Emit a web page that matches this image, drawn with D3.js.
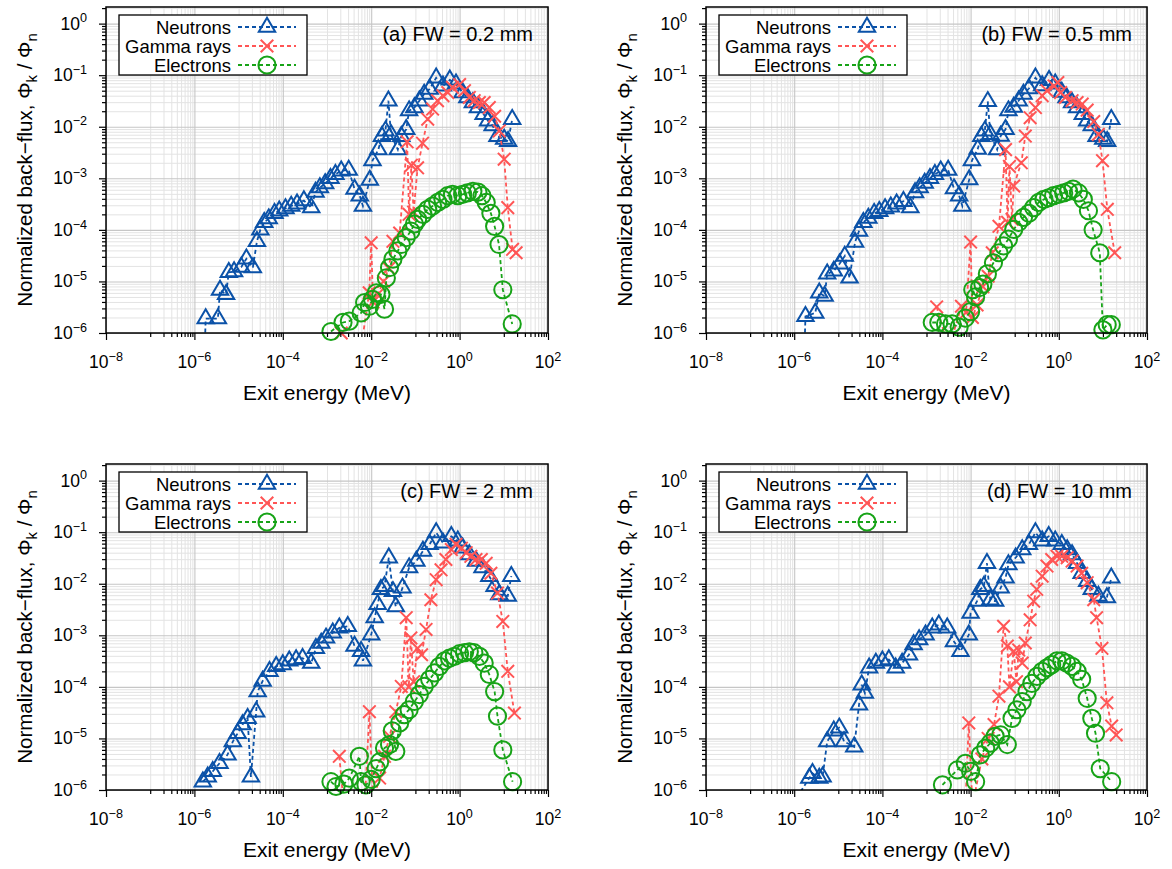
<!DOCTYPE html>
<html><head><meta charset="utf-8">
<script src="https://cdn.jsdelivr.net/npm/d3@7"></script>
<style>
body{margin:0;background:#fff}
text{font-family:"Liberation Sans",Arial,Helvetica,sans-serif;fill:#000}
</style>
</head><body>
<svg id="chart" width="1172" height="869"></svg>
<script>
// ---------- data (exit energy in MeV, normalized back-flux) ----------
const xTickExps = [-8, -6, -4, -2, 0, 2];
const yTickExps = [-6, -5, -4, -3, -2, -1, 0];
const seriesNames = ["Neutrons", "Gamma rays", "Electrons"];
const panelLabels = ["(a) FW = 0.2 mm", "(b) FW = 0.5 mm", "(c) FW = 2 mm", "(d) FW = 10 mm"];
const xTitle = "Exit energy (MeV)";

const neutronsA = [[1.7e-6,4.0e-7],[1.8e-6,1.9e-6],[3.4e-6,1.9e-6],[3.8e-6,6.8e-6],[5.2e-6,5.6e-6],[6.0e-6,1.5e-5],[7.9e-6,1.55e-5],[1.15e-5,1.9e-5],[1.5e-5,2.75e-5],[2.1e-5,1.85e-5],[2.6e-5,6.0e-5],[3.1e-5,1.0e-4],[3.8e-5,1.4e-4],[4.8e-5,1.65e-4],[6.5e-5,2.1e-4],[8.3e-5,2.35e-4],[1.15e-4,2.6e-4],[1.55e-4,2.9e-4],[2.1e-4,3.2e-4],[3.0e-4,3.7e-4],[4.4e-4,2.7e-4],[5.5e-4,5.4e-4],[6.9e-4,6.6e-4],[9.1e-4,7.9e-4],[1.2e-3,1.0e-3],[1.55e-3,1.2e-3],[2.1e-3,1.4e-3],[3.1e-3,1.45e-3],[4.2e-3,6.2e-4],[5.5e-3,4.6e-4],[6.5e-3,2.9e-4],[9.3e-3,9.3e-4],[1.07e-2,2.2e-3],[1.45e-2,3.6e-3],[1.75e-2,6.5e-3],[2.1e-2,8.3e-3],[2.45e-2,3.2e-2],[2.8e-2,7.1e-3],[4.0e-2,3.6e-3],[4.8e-2,6.5e-3],[6.2e-2,8.9e-3],[7.2e-2,2.05e-2],[9.5e-2,2.35e-2],[0.123,3.2e-2],[0.158,4.3e-2],[0.21,5.4e-2],[0.295,8.9e-2],[0.42,6.2e-2],[0.60,8.1e-2],[0.83,6.8e-2],[1.17,4.6e-2],[1.5,3.7e-2],[2.0,2.95e-2],[2.6,2.35e-2],[3.5,1.75e-2],[4.4,1.3e-2],[5.6,1.05e-2],[7.2,6.5e-3],[10.2,5.8e-3],[12.5,5.2e-3],[15.5,1.4e-2]];
const gammaA = [[2.1e-3,1.0e-6],[3.7e-3,5.0e-7],[6.5e-3,9.1e-7],[9.0e-3,6.0e-6],[1.0e-2,5.6e-5],[1.1e-2,4.0e-6],[1.4e-2,5.6e-6],[1.9e-2,1.0e-5],[2.5e-2,1.8e-5],[3.1e-2,6.0e-5],[4.4e-2,8.7e-5],[6.5e-2,5.1e-3],[7.2e-2,2.0e-4],[8.1e-2,1.8e-3],[9.1e-2,2.2e-4],[0.112,1.6e-3],[0.145,4.8e-3],[0.19,1.4e-2],[0.245,2.2e-2],[0.316,3.2e-2],[0.42,4.0e-2],[0.54,4.6e-2],[0.69,5.8e-2],[1.0,6.6e-2],[1.29,5.0e-2],[1.66,3.7e-2],[2.14,3.2e-2],[2.8,2.95e-2],[3.6,2.95e-2],[4.7,2.35e-2],[6.2,1.6e-2],[7.9,8.3e-3],[10.2,2.35e-3],[12.3,2.7e-4],[15.8,4.2e-5],[19,3.6e-5]];
const electronsA = [[1.23e-3,1.07e-6],[2.3e-3,1.6e-6],[3.2e-3,1.7e-6],[5.9e-3,2.45e-6],[7.1e-3,3.9e-6],[9.1e-3,3.3e-6],[1.07e-2,4.5e-6],[1.3e-2,6.0e-6],[1.66e-2,5.6e-6],[2.0e-2,2.9e-6],[2.2e-2,1.17e-5],[2.6e-2,1.86e-5],[3.1e-2,2.7e-5],[4.0e-2,3.9e-5],[4.8e-2,5.2e-5],[6.2e-2,7.1e-5],[7.9e-2,9.5e-5],[9.5e-2,1.3e-4],[0.112,1.6e-4],[0.148,2.0e-4],[0.19,2.5e-4],[0.245,2.9e-4],[0.32,3.4e-4],[0.42,3.9e-4],[0.54,4.6e-4],[0.69,4.9e-4],[0.91,4.6e-4],[1.17,4.9e-4],[1.5,5.2e-4],[2.0,5.6e-4],[2.6,5.4e-4],[3.2,4.6e-4],[4.0,3.4e-4],[5.1,2.1e-4],[6.2,1.17e-4],[7.8,5.2e-5],[9.5,6.9e-6],[15.5,1.5e-6]];

const neutronsB = [[1.7e-6,4.0e-7],[1.8e-6,2.1e-6],[3.0e-6,2.45e-6],[3.7e-6,6.0e-6],[4.9e-6,5.2e-6],[5.6e-6,1.4e-5],[7.9e-6,1.6e-5],[1.07e-5,2.2e-5],[1.4e-5,3.1e-5],[1.8e-5,1.17e-5],[2.4e-5,5.8e-5],[2.95e-5,9.5e-5],[3.7e-5,1.4e-4],[4.8e-5,1.7e-4],[6.5e-5,2.1e-4],[8.5e-5,2.3e-4],[1.15e-4,2.6e-4],[1.55e-4,2.8e-4],[2.1e-4,3.2e-4],[3.0e-4,3.6e-4],[4.3e-4,2.7e-4],[5.5e-4,5.3e-4],[7.0e-4,6.6e-4],[9.1e-4,8.1e-4],[1.2e-3,1.0e-3],[1.55e-3,1.2e-3],[2.1e-3,1.4e-3],[3.1e-3,1.45e-3],[4.2e-3,6.3e-4],[5.5e-3,4.6e-4],[6.5e-3,2.9e-4],[9.3e-3,9.5e-4],[1.07e-2,2.2e-3],[1.45e-2,3.7e-3],[1.75e-2,6.5e-3],[2.1e-2,8.3e-3],[2.45e-2,3.1e-2],[2.8e-2,7.1e-3],[4.0e-2,3.6e-3],[4.8e-2,6.6e-3],[6.2e-2,8.9e-3],[7.2e-2,2.05e-2],[9.5e-2,2.4e-2],[0.123,3.2e-2],[0.158,4.3e-2],[0.21,5.5e-2],[0.295,8.9e-2],[0.42,6.3e-2],[0.60,8.0e-2],[0.83,6.8e-2],[1.17,4.7e-2],[1.5,3.7e-2],[2.0,2.95e-2],[2.6,2.35e-2],[3.5,1.75e-2],[4.4,1.3e-2],[5.6,1.05e-2],[7.2,6.5e-3],[10.2,5.8e-3],[12.5,5.2e-3],[15.5,1.4e-2]];
const gammaB = [[1.7e-3,3.2e-6],[3.2e-3,5.0e-7],[6.2e-3,3.3e-6],[7.9e-3,2.5e-6],[1.0e-2,5.8e-5],[1.1e-2,2.0e-6],[1.4e-2,3.5e-6],[1.9e-2,7.9e-6],[2.5e-2,1.26e-5],[3.1e-2,3.6e-5],[4.4e-2,1.17e-4],[6.2e-2,3.6e-3],[6.9e-2,1.4e-4],[7.6e-2,1.7e-3],[8.7e-2,1.6e-4],[9.5e-2,7.1e-4],[0.141,2.0e-3],[0.174,6.6e-3],[0.224,1.5e-2],[0.295,2.35e-2],[0.42,4.0e-2],[0.54,5.0e-2],[0.78,6.2e-2],[0.95,7.2e-2],[1.1,4.6e-2],[1.41,3.7e-2],[2.0,3.2e-2],[2.6,2.95e-2],[3.4,2.75e-2],[4.4,2.1e-2],[6.2,1.26e-2],[7.9,7.1e-3],[9.8,2.2e-3],[12.6,2.5e-4],[18.5,3.6e-5]];
const electronsB = [[1.35e-3,1.6e-6],[1.9e-3,1.6e-6],[2.7e-3,1.5e-6],[3.8e-3,1.5e-6],[5.5e-3,1.3e-6],[7.6e-3,1.95e-6],[1.0e-2,2.6e-6],[1.12e-2,6.9e-6],[1.3e-2,5.0e-6],[1.6e-2,7.6e-6],[1.9e-2,8.9e-6],[2.4e-2,1.4e-5],[3.3e-2,2.3e-5],[4.4e-2,3.6e-5],[5.6e-2,4.9e-5],[7.2e-2,6.6e-5],[9.5e-2,1.02e-4],[0.123,1.4e-4],[0.158,1.74e-4],[0.21,2.1e-4],[0.27,2.7e-4],[0.35,3.4e-4],[0.46,3.9e-4],[0.59,4.2e-4],[0.76,4.6e-4],[1.0,4.9e-4],[1.29,5.2e-4],[1.66,5.6e-4],[2.1,6.2e-4],[2.8,5.2e-4],[3.6,3.9e-4],[4.7,2.35e-4],[6.0,1.0e-4],[8.5,3.6e-5],[10,1.15e-6],[12.5,1.45e-6],[15.5,1.45e-6]];

const neutronsC = [[1.55e-6,1.45e-6],[2.0e-6,1.8e-6],[2.6e-6,2.3e-6],[3.7e-6,3.3e-6],[5.6e-6,4.8e-6],[7.4e-6,8.7e-6],[9.5e-6,1.26e-5],[1.23e-5,1.86e-5],[1.6e-5,2.45e-5],[1.9e-5,1.8e-6],[2.5e-5,3.3e-5],[2.7e-5,8.1e-5],[3.5e-5,1.3e-4],[5.0e-5,2.0e-4],[7.1e-5,2.5e-4],[1.0e-4,2.7e-4],[1.4e-4,3.2e-4],[2.0e-4,3.4e-4],[2.8e-4,3.6e-4],[4.4e-4,2.9e-4],[5.6e-4,5.6e-4],[7.4e-4,7.1e-4],[9.5e-4,8.9e-4],[1.35e-3,1.12e-3],[1.9e-3,1.4e-3],[2.95e-3,1.5e-3],[4.2e-3,6.2e-4],[5.9e-3,4.9e-4],[6.5e-3,3.2e-4],[1.0e-2,1.02e-3],[1.2e-2,2.2e-3],[1.4e-2,4.0e-3],[1.66e-2,7.8e-3],[2.0e-2,8.9e-3],[2.5e-2,3.2e-2],[3.1e-2,7.1e-3],[3.6e-2,3.6e-3],[5.1e-2,8.3e-3],[7.2e-2,2.05e-2],[0.105,2.75e-2],[0.148,4.3e-2],[0.21,5.8e-2],[0.295,9.8e-2],[0.42,6.2e-2],[0.65,8.3e-2],[0.91,6.8e-2],[1.17,5.0e-2],[1.66,3.7e-2],[2.35,2.75e-2],[3.3,2.05e-2],[4.7,1.4e-2],[6.2,8.9e-3],[7.9,6.2e-3],[12.3,5.8e-3],[14.8,1.4e-2]];
const gammaC = [[1.9e-3,4.5e-6],[2.4e-3,5.0e-7],[7.1e-3,5.0e-7],[9.1e-3,3.3e-5],[1.1e-2,6.3e-7],[1.55e-2,1.7e-6],[2.0e-2,4.5e-6],[2.6e-2,1.1e-5],[3.6e-2,3.3e-5],[4.8e-2,1.02e-4],[6.2e-2,2.2e-3],[7.1e-2,1.0e-4],[7.9e-2,8.9e-4],[9.1e-2,1.26e-4],[0.112,5.6e-4],[0.138,4.2e-4],[0.174,1.3e-3],[0.224,4.9e-3],[0.295,1.2e-2],[0.38,1.86e-2],[0.49,2.95e-2],[0.65,4.6e-2],[0.83,5.8e-2],[1.1,4.9e-2],[1.41,4.0e-2],[1.8,3.4e-2],[2.35,2.95e-2],[3.1,2.95e-2],[4.0,2.5e-2],[5.1,1.6e-2],[7.2,6.6e-3],[9.5,1.86e-3],[12.3,2.0e-4],[17.4,3.1e-5]];
const electronsC = [[1.23e-3,1.45e-6],[1.6e-3,1.17e-6],[2.4e-3,1.3e-6],[3.2e-3,1.7e-6],[5.4e-3,4.5e-6],[5.9e-3,1.45e-6],[7.6e-3,1.26e-6],[1.0e-2,1.6e-6],[1.3e-2,2.6e-6],[1.55e-2,3.5e-6],[2.0e-2,6.5e-6],[2.6e-2,7.6e-6],[3.0e-2,1.4e-5],[3.6e-2,5.6e-6],[4.4e-2,2.0e-5],[5.6e-2,2.9e-5],[7.2e-2,3.6e-5],[9.5e-2,5.2e-5],[0.123,7.1e-5],[0.158,1.02e-4],[0.21,1.4e-4],[0.27,1.86e-4],[0.35,2.5e-4],[0.46,3.2e-4],[0.59,3.6e-4],[0.76,3.9e-4],[1.0,4.4e-4],[1.29,4.6e-4],[1.66,4.8e-4],[2.1,4.6e-4],[2.8,3.9e-4],[3.6,2.9e-4],[4.7,1.74e-4],[6.2,8.1e-5],[7.2,2.7e-5],[9.5,6.0e-6],[15.8,1.45e-6]];

const neutronsD = [[1.4e-6,9.3e-7],[2.2e-6,1.7e-6],[2.6e-6,2.1e-6],[3.7e-6,1.7e-6],[4.4e-6,1.8e-6],[5.6e-6,8.7e-6],[7.9e-6,1.4e-5],[1.05e-5,1.6e-5],[1.35e-5,8.7e-6],[2.3e-5,6.9e-6],[2.95e-5,4.5e-5],[3.4e-5,1.1e-4],[4.0e-5,7.6e-5],[5.0e-5,2.35e-4],[7.1e-5,2.9e-4],[1.0e-4,3.2e-4],[1.4e-4,3.4e-4],[2.0e-4,2.35e-4],[2.8e-4,2.9e-4],[4.0e-4,4.2e-4],[5.1e-4,6.6e-4],[6.8e-4,8.3e-4],[9.5e-4,1.02e-3],[1.35e-3,1.4e-3],[1.9e-3,1.6e-3],[2.95e-3,1.4e-3],[4.2e-3,7.6e-4],[5.9e-3,4.9e-4],[9.1e-3,1.02e-3],[1.0e-2,2.7e-3],[1.4e-2,4.6e-3],[1.66e-2,7.8e-3],[2.0e-2,8.9e-3],[2.35e-2,2.5e-2],[2.8e-2,4.9e-3],[3.6e-2,4.6e-3],[4.8e-2,8.3e-3],[6.2e-2,1.3e-2],[7.2e-2,2.35e-2],[0.105,3.2e-2],[0.148,4.6e-2],[0.21,5.8e-2],[0.295,9.8e-2],[0.42,6.8e-2],[0.59,8.3e-2],[0.83,6.8e-2],[1.17,5.8e-2],[1.55,4.6e-2],[2.0,3.7e-2],[2.6,2.5e-2],[3.3,1.6e-2],[4.4,1.12e-2],[5.6,7.8e-3],[7.9,5.8e-3],[12.3,5.4e-3],[15.5,1.3e-2]];
const gammaD = [[1.9e-3,9.3e-7],[7.6e-3,5.0e-7],[9.1e-3,2.0e-5],[1.1e-2,5.0e-7],[1.8e-2,4.0e-6],[2.5e-2,1.0e-5],[3.4e-2,1.86e-5],[4.4e-2,6.6e-5],[5.6e-2,1.5e-3],[6.8e-2,6.2e-4],[7.6e-2,1.0e-4],[9.5e-2,4.9e-4],[0.11,1.26e-4],[0.123,5.2e-4],[0.148,2.9e-4],[0.174,7.1e-4],[0.224,2.0e-3],[0.27,4.6e-3],[0.316,7.8e-3],[0.42,1.4e-2],[0.54,2.2e-2],[0.69,2.95e-2],[0.91,3.4e-2],[1.17,3.4e-2],[1.55,3.2e-2],[2.0,2.75e-2],[2.6,2.2e-2],[3.3,1.6e-2],[4.4,1.05e-2],[6.2,4.9e-3],[7.2,2.2e-3],[9.5,5.6e-4],[12.3,4.9e-5],[15.8,1.74e-5],[20,1.17e-5]];
const electronsD = [[2.3e-3,1.26e-6],[5.0e-3,2.45e-6],[7.6e-3,3.3e-6],[1.0e-2,2.3e-6],[1.3e-2,1.45e-6],[1.66e-2,4.8e-6],[2.2e-2,6.5e-6],[2.8e-2,8.1e-6],[3.6e-2,1.1e-5],[4.8e-2,1.17e-5],[6.8e-2,7.6e-6],[8.7e-2,2.45e-5],[0.112,3.6e-5],[0.148,5.2e-5],[0.19,8.1e-5],[0.245,1.17e-4],[0.32,1.6e-4],[0.42,2.0e-4],[0.54,2.35e-4],[0.69,2.7e-4],[0.91,3.2e-4],[1.17,3.2e-4],[1.5,2.9e-4],[2.0,2.5e-4],[2.6,2.0e-4],[3.3,1.4e-4],[4.4,6.0e-5],[5.6,2.45e-5],[6.8,1.26e-5],[8.7,2.6e-6],[15.8,1.45e-6]];

// ---------- layout & style ----------
const colors = ["#0b52a8", "#ff5555", "#17a317"];
const panels = [
  {x0:106, x1:548, y0:7,   y1:333, label:panelLabels[0], data:[neutronsA, gammaA, electronsA]},
  {x0:706, x1:1147, y0:7,  y1:333, label:panelLabels[1], data:[neutronsB, gammaB, electronsB]},
  {x0:106, x1:548, y0:464, y1:790, label:panelLabels[2], data:[neutronsC, gammaC, electronsC]},
  {x0:706, x1:1147, y0:464, y1:790, label:panelLabels[3], data:[neutronsD, gammaD, electronsD]}
];
const Y_MAX = 2.1, Y_MIN = 1e-6, X_MIN = 1e-8, X_MAX = 1e2;

const svg = d3.select("#chart");
svg.append("rect").attr("width",1172).attr("height",869).attr("fill","#fff");

function addMarker(sel, kind, color) {
  if (kind === 0) sel.append("path").attr("d","M0,-9.3L8.2,4.7L-8.2,4.7Z");
  else if (kind === 1) sel.append("path").attr("d","M-6.3,-6.3L6.3,6.3M-6.3,6.3L6.3,-6.3");
  else sel.append("circle").attr("r", 8.6);
  sel.selectAll("path,circle").attr("fill","none").attr("stroke",color).attr("stroke-width",2);
}

function powLabel(sel, e, fs) {
  sel.append("tspan").text("10");
  sel.append("tspan").attr("font-size", fs*0.72).attr("dy", -fs*0.42).text(e < 0 ? "\u2212" + (-e) : String(e));
}

panels.forEach((p, pi) => {
  const g = svg.append("g");
  const x = d3.scaleLog().domain([X_MIN, X_MAX]).range([p.x0, p.x1]);
  const y = d3.scaleLog().domain([Y_MIN, Y_MAX]).range([p.y1, p.y0]);

  const xMajor = xTickExps.map(e => Math.pow(10, e));
  const xMinor = [];
  for (let e = -7; e <= 1; e += 2) for (let k = 1; k <= 9; k++) xMinor.push(k * Math.pow(10, e));
  const yMajor = yTickExps.map(e => Math.pow(10, e));
  const yMinor = [];
  for (let e = -6; e <= 0; e++) for (let k = 2; k <= 9; k++) { const v = k * Math.pow(10, e); if (v <= Y_MAX) yMinor.push(v); }

  // grid
  const grid = g.append("g");
  const gridAxis = (axisGen, vals, cls, tr) => {
    const a = grid.append("g").attr("transform", tr).call(axisGen.tickValues(vals).tickFormat(""));
    a.select(".domain").remove();
    a.selectAll("line").attr("stroke", cls === "major" ? "#c6c6c6" : "#e3e3e3").attr("stroke-width", cls === "major" ? 1.1 : 1);
  };
  gridAxis(d3.axisBottom(x).tickSize(-(p.y1 - p.y0)).tickSizeOuter(0), xMinor, "minor", `translate(0,${p.y1})`);
  gridAxis(d3.axisLeft(y).tickSize(-(p.x1 - p.x0)).tickSizeOuter(0), yMinor, "minor", `translate(${p.x0},0)`);
  gridAxis(d3.axisBottom(x).tickSize(-(p.y1 - p.y0)).tickSizeOuter(0), xMajor, "major", `translate(0,${p.y1})`);
  gridAxis(d3.axisLeft(y).tickSize(-(p.x1 - p.x0)).tickSizeOuter(0), yMajor, "major", `translate(${p.x0},0)`);

  // clip
  const clipId = "clip" + pi;
  svg.append("clipPath").attr("id", clipId).append("rect")
    .attr("x", p.x0).attr("y", p.y0).attr("width", p.x1 - p.x0).attr("height", p.y1 - p.y0);

  // series
  const line = d3.line().x(d => x(d[0])).y(d => y(d[1]));
  p.data.forEach((ser, si) => {
    const sg = g.append("g");
    sg.append("path").attr("d", line(ser)).attr("fill","none").attr("stroke", colors[si])
      .attr("stroke-width", 1.8).attr("stroke-dasharray","4,3").attr("clip-path", `url(#${clipId})`);
    ser.filter(d => d[0] >= X_MIN && d[0] <= X_MAX && d[1] >= Y_MIN && d[1] <= Y_MAX).forEach(d => {
      const m = sg.append("g").attr("transform", `translate(${x(d[0])},${y(d[1])})`);
      addMarker(m, si, colors[si]);
    });
  });

  // axes ticks (outward)
  const tickAxis = (axisGen, vals, size, tr) => {
    const a = g.append("g").attr("transform", tr).call(axisGen.tickValues(vals).tickSize(size).tickSizeOuter(0).tickFormat(""));
    a.select(".domain").remove();
    a.selectAll("line").attr("stroke","#000").attr("stroke-width",1.2);
  };
  tickAxis(d3.axisBottom(x), xMinor, 4, `translate(0,${p.y1})`);
  tickAxis(d3.axisBottom(x), xMajor, 7, `translate(0,${p.y1})`);
  tickAxis(d3.axisLeft(y), yMinor, 4, `translate(${p.x0},0)`);
  tickAxis(d3.axisLeft(y), yMajor, 7, `translate(${p.x0},0)`);

  // frame
  g.append("rect").attr("x", p.x0).attr("y", p.y0).attr("width", p.x1 - p.x0).attr("height", p.y1 - p.y0)
    .attr("fill","none").attr("stroke","#000").attr("stroke-width",1.5);

  // tick labels
  const fs = 17.5;
  xTickExps.forEach(e => {
    const t = g.append("text").attr("x", x(Math.pow(10, e))).attr("y", p.y1 + 35)
      .attr("text-anchor","middle").attr("font-size", fs);
    powLabel(t, e, fs);
  });
  yTickExps.forEach(e => {
    const t = g.append("text").attr("x", p.x0 - 19).attr("y", y(Math.pow(10, e)) + 6)
      .attr("text-anchor","end").attr("font-size", fs);
    powLabel(t, e, fs);
  });

  // axis titles
  g.append("text").attr("x", (p.x0 + p.x1) / 2).attr("y", p.y1 + 67).attr("text-anchor","middle")
    .attr("font-size", 21).text(xTitle);
  const yt = g.append("text").attr("transform", `translate(${p.x0 - 74},${(p.y0 + p.y1) / 2}) rotate(-90)`)
    .attr("text-anchor","middle").attr("font-size", 20.5);
  yt.append("tspan").text("Normalized back\u2212flux, \u03A6");
  yt.append("tspan").attr("font-size", 15).attr("dy", 5).text("k");
  yt.append("tspan").attr("dy", -5).text(" / \u03A6");
  yt.append("tspan").attr("font-size", 15).attr("dy", 5).text("n");

  // panel label
  g.append("text").attr("x", p.x1 - 15).attr("y", p.y0 + 34).attr("text-anchor","end")
    .attr("font-size", 20).text(p.label);

  // legend
  const lg = g.append("g");
  lg.append("rect").attr("x", p.x0 + 13).attr("y", p.y0 + 8).attr("width", 188).attr("height", 60)
    .attr("fill","#fff").attr("stroke","#000").attr("stroke-width",1.3);
  seriesNames.forEach((name, si) => {
    const cy = p.y0 + 20 + si * 19;
    lg.append("text").attr("x", p.x0 + 125).attr("y", cy + 6.5).attr("text-anchor","end")
      .attr("font-size", 18.5).text(name);
    lg.append("line").attr("x1", p.x0 + 132).attr("x2", p.x0 + 190).attr("y1", cy).attr("y2", cy)
      .attr("stroke", colors[si]).attr("stroke-width", 1.8).attr("stroke-dasharray","4,3");
    const m = lg.append("g").attr("transform", `translate(${p.x0 + 161},${cy})`);
    addMarker(m, si, colors[si]);
  });
});
</script>
</body></html>
